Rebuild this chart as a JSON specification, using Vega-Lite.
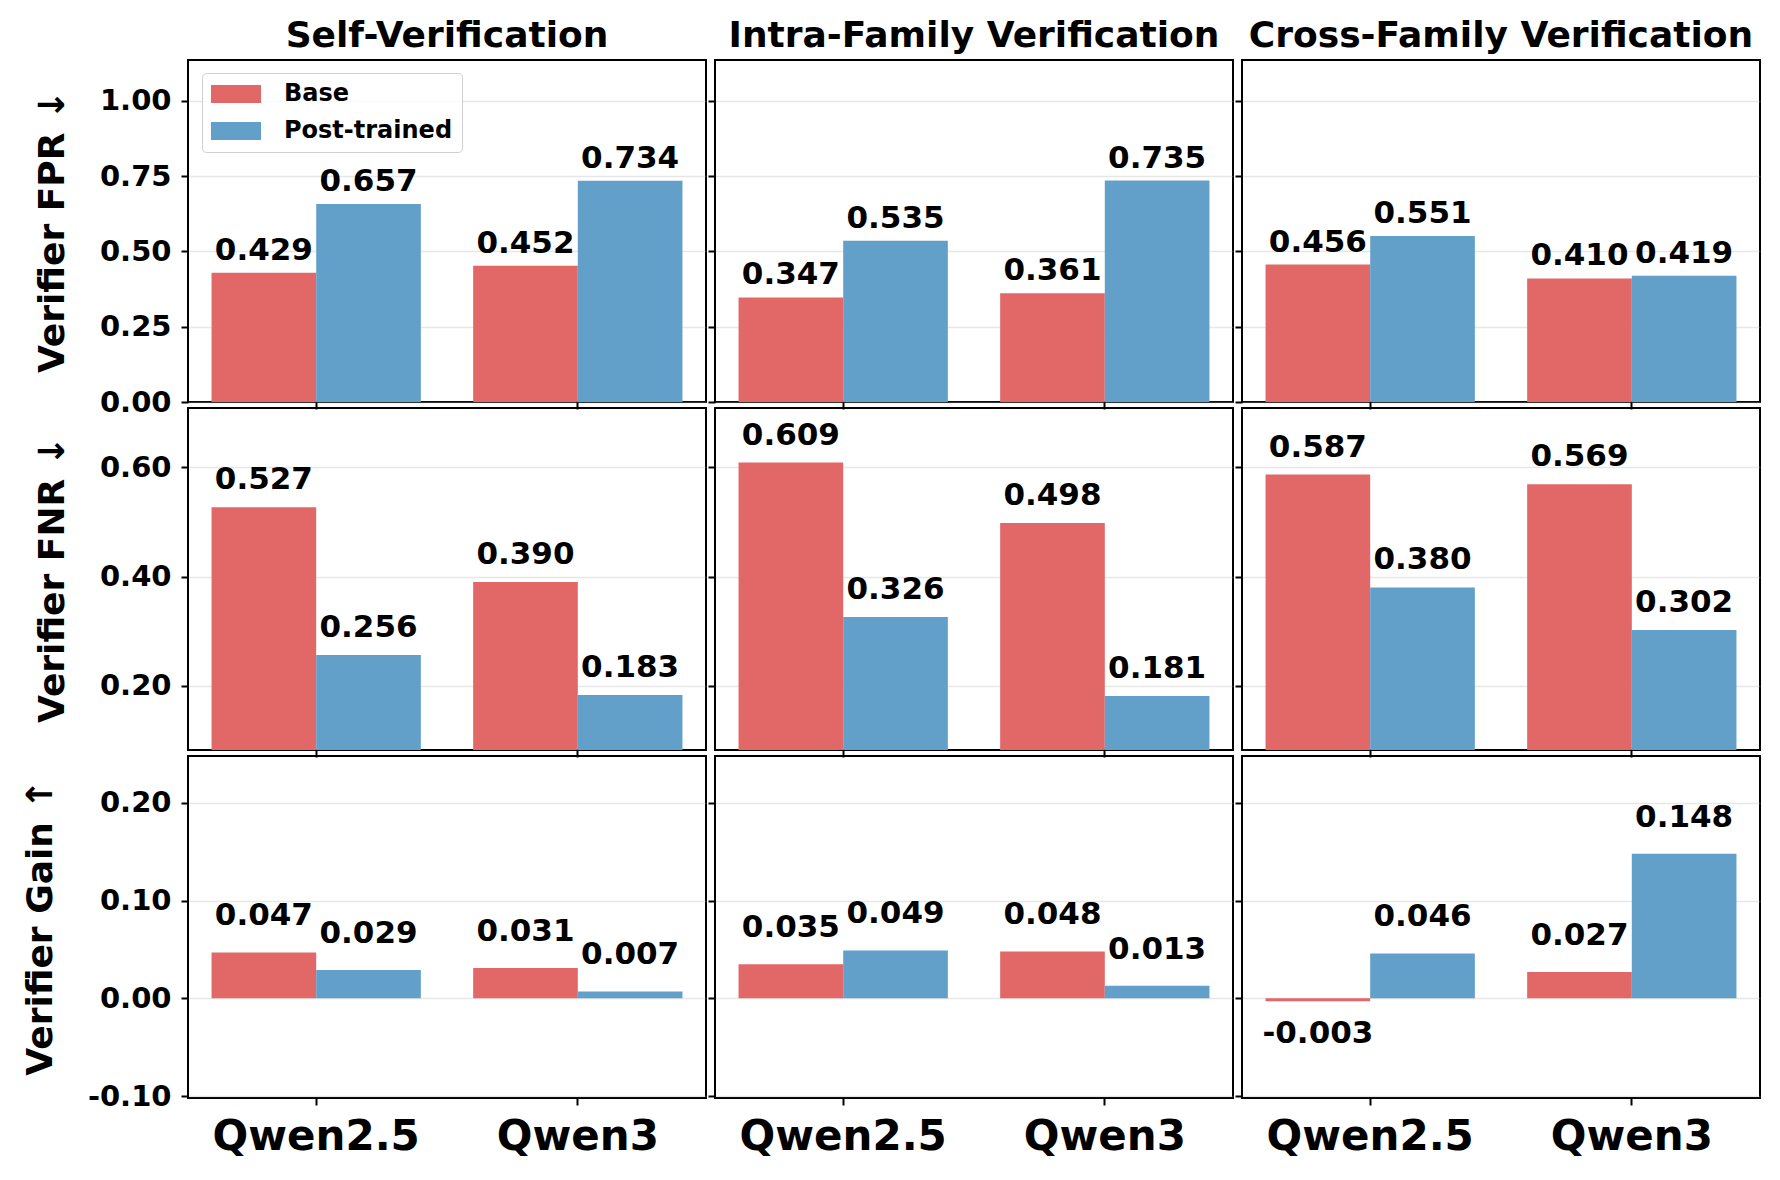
{
  "$schema": "https://vega.github.io/schema/vega-lite/v6.json",
  "padding": {"left": 21, "top": 17, "right": 16, "bottom": 10},
  "background": "white",
  "config": {
    "font": "DejaVu Sans",
    "locale": {"number": {"decimal": ".", "thousands": ",", "grouping": [3], "currency": ["$", ""], "minus": "-"}},
    "view": {"stroke": "black", "strokeWidth": 2},
    "title": {"font": "DejaVu Sans", "fontSize": 36, "fontWeight": "bold", "color": "black", "offset": 5, "anchor": "middle"},
    "axis": {"labelFont": "DejaVu Sans", "labelFontWeight": "bold", "labelColor": "black", "titleFont": "DejaVu Sans", "titleFontWeight": "bold", "titleColor": "black", "tickColor": "black", "tickWidth": 2, "tickSize": 7, "domain": false, "zindex": 1, "gridColor": "#b0b0b0", "gridOpacity": 0.3, "gridWidth": 1.5},
    "axisX": {"grid": false, "labelFontSize": 42, "labelAngle": 0, "labelPadding": 11, "labelLimit": 0},
    "axisY": {"labelFontSize": 29, "labelPadding": 10, "titleFontSize": 36, "titlePadding": 28, "grid": true},
    "text": {"font": "DejaVu Sans", "fontSize": 31, "fontWeight": "bold", "color": "black"}
  },
  "datasets": {
    "d": [
      {"metric": "FPR", "setting": "Self", "model": "Qwen2.5", "variant": "Base", "value": 0.429},
      {"metric": "FPR", "setting": "Self", "model": "Qwen2.5", "variant": "Post-trained", "value": 0.657},
      {"metric": "FPR", "setting": "Self", "model": "Qwen3", "variant": "Base", "value": 0.452},
      {"metric": "FPR", "setting": "Self", "model": "Qwen3", "variant": "Post-trained", "value": 0.734},
      {"metric": "FPR", "setting": "Intra", "model": "Qwen2.5", "variant": "Base", "value": 0.347},
      {"metric": "FPR", "setting": "Intra", "model": "Qwen2.5", "variant": "Post-trained", "value": 0.535},
      {"metric": "FPR", "setting": "Intra", "model": "Qwen3", "variant": "Base", "value": 0.361},
      {"metric": "FPR", "setting": "Intra", "model": "Qwen3", "variant": "Post-trained", "value": 0.735},
      {"metric": "FPR", "setting": "Cross", "model": "Qwen2.5", "variant": "Base", "value": 0.456},
      {"metric": "FPR", "setting": "Cross", "model": "Qwen2.5", "variant": "Post-trained", "value": 0.551},
      {"metric": "FPR", "setting": "Cross", "model": "Qwen3", "variant": "Base", "value": 0.410},
      {"metric": "FPR", "setting": "Cross", "model": "Qwen3", "variant": "Post-trained", "value": 0.419},
      {"metric": "FNR", "setting": "Self", "model": "Qwen2.5", "variant": "Base", "value": 0.527},
      {"metric": "FNR", "setting": "Self", "model": "Qwen2.5", "variant": "Post-trained", "value": 0.256},
      {"metric": "FNR", "setting": "Self", "model": "Qwen3", "variant": "Base", "value": 0.390},
      {"metric": "FNR", "setting": "Self", "model": "Qwen3", "variant": "Post-trained", "value": 0.183},
      {"metric": "FNR", "setting": "Intra", "model": "Qwen2.5", "variant": "Base", "value": 0.609},
      {"metric": "FNR", "setting": "Intra", "model": "Qwen2.5", "variant": "Post-trained", "value": 0.326},
      {"metric": "FNR", "setting": "Intra", "model": "Qwen3", "variant": "Base", "value": 0.498},
      {"metric": "FNR", "setting": "Intra", "model": "Qwen3", "variant": "Post-trained", "value": 0.181},
      {"metric": "FNR", "setting": "Cross", "model": "Qwen2.5", "variant": "Base", "value": 0.587},
      {"metric": "FNR", "setting": "Cross", "model": "Qwen2.5", "variant": "Post-trained", "value": 0.380},
      {"metric": "FNR", "setting": "Cross", "model": "Qwen3", "variant": "Base", "value": 0.569},
      {"metric": "FNR", "setting": "Cross", "model": "Qwen3", "variant": "Post-trained", "value": 0.302},
      {"metric": "Gain", "setting": "Self", "model": "Qwen2.5", "variant": "Base", "value": 0.047},
      {"metric": "Gain", "setting": "Self", "model": "Qwen2.5", "variant": "Post-trained", "value": 0.029},
      {"metric": "Gain", "setting": "Self", "model": "Qwen3", "variant": "Base", "value": 0.031},
      {"metric": "Gain", "setting": "Self", "model": "Qwen3", "variant": "Post-trained", "value": 0.007},
      {"metric": "Gain", "setting": "Intra", "model": "Qwen2.5", "variant": "Base", "value": 0.035},
      {"metric": "Gain", "setting": "Intra", "model": "Qwen2.5", "variant": "Post-trained", "value": 0.049},
      {"metric": "Gain", "setting": "Intra", "model": "Qwen3", "variant": "Base", "value": 0.048},
      {"metric": "Gain", "setting": "Intra", "model": "Qwen3", "variant": "Post-trained", "value": 0.013},
      {"metric": "Gain", "setting": "Cross", "model": "Qwen2.5", "variant": "Base", "value": -0.003},
      {"metric": "Gain", "setting": "Cross", "model": "Qwen2.5", "variant": "Post-trained", "value": 0.046},
      {"metric": "Gain", "setting": "Cross", "model": "Qwen3", "variant": "Base", "value": 0.027},
      {"metric": "Gain", "setting": "Cross", "model": "Qwen3", "variant": "Post-trained", "value": 0.148}
    ]
  },
  "data": {"name": "d"},
  "columns": 3,
  "bounds": "flush",
  "spacing": {"row": 6, "column": 9},
  "resolve": {"scale": {"x": "independent", "y": "independent"}, "legend": {"color": "independent"}},
  "concat": [
    {
      "width": 518, "height": 342,
      "title": "Self-Verification",
      "transform": [{"filter": "datum.metric === 'FPR' && datum.setting === 'Self'"}],
      "encoding": {
        "x": {"field": "model", "type": "nominal", "scale": {"domain": ["Qwen2.5", "Qwen3"], "paddingInner": 0.2, "paddingOuter": 0.09}, "axis": {"labels": false, "labelPadding": 0, "title": null}},
        "xOffset": {"field": "variant", "type": "nominal", "scale": {"domain": ["Base", "Post-trained"], "paddingInner": 0, "paddingOuter": 0}},
        "y": {"field": "value", "type": "quantitative", "scale": {"domain": [0, 1.135], "nice": false, "zero": false}, "axis": {"values": [0, 0.25, 0.5, 0.75, 1.0], "format": ".2f", "title": "Verifier FPR ↓"}}
      },
      "layer": [
        {"mark": {"type": "bar", "clip": true}, "encoding": {"color": {"field": "variant", "type": "nominal", "scale": {"domain": ["Base", "Post-trained"], "range": ["#e26868", "#62a0ca"]}, "legend": {"orient": "none", "legendX": 14, "legendY": 13, "title": null, "symbolType": "M-2.778,-1L2.778,-1L2.778,1L-2.778,1Z", "symbolSize": 324, "symbolOffset": 13, "symbolStrokeWidth": 0, "symbolOpacity": 1, "labelFont": "DejaVu Sans", "labelFontSize": 24, "labelFontWeight": "bold", "labelColor": "black", "labelOffset": 36, "labelLimit": 0, "rowPadding": 13, "padding": 9, "strokeColor": "#d0d0d0", "fillColor": "rgba(255,255,255,0.8)", "cornerRadius": 4}}}},
        {"transform": [{"filter": "datum.value >= 0"}], "mark": {"type": "text", "baseline": "alphabetic", "dy": -13}, "encoding": {"text": {"field": "value", "type": "quantitative", "format": ".3f"}}}
      ]
    },
    {
      "width": 518, "height": 342,
      "title": "Intra-Family Verification",
      "transform": [{"filter": "datum.metric === 'FPR' && datum.setting === 'Intra'"}],
      "encoding": {
        "x": {"field": "model", "type": "nominal", "scale": {"domain": ["Qwen2.5", "Qwen3"], "paddingInner": 0.2, "paddingOuter": 0.09}, "axis": {"labels": false, "labelPadding": 0, "title": null}},
        "xOffset": {"field": "variant", "type": "nominal", "scale": {"domain": ["Base", "Post-trained"], "paddingInner": 0, "paddingOuter": 0}},
        "y": {"field": "value", "type": "quantitative", "scale": {"domain": [0, 1.135], "nice": false, "zero": false}, "axis": {"values": [0, 0.25, 0.5, 0.75, 1.0], "labels": false, "labelPadding": 0, "title": null}}
      },
      "layer": [
        {"mark": {"type": "bar", "clip": true}, "encoding": {"color": {"field": "variant", "type": "nominal", "scale": {"domain": ["Base", "Post-trained"], "range": ["#e26868", "#62a0ca"]}, "legend": null}}},
        {"transform": [{"filter": "datum.value >= 0"}], "mark": {"type": "text", "baseline": "alphabetic", "dy": -13}, "encoding": {"text": {"field": "value", "type": "quantitative", "format": ".3f"}}}
      ]
    },
    {
      "width": 518, "height": 342,
      "title": "Cross-Family Verification",
      "transform": [{"filter": "datum.metric === 'FPR' && datum.setting === 'Cross'"}],
      "encoding": {
        "x": {"field": "model", "type": "nominal", "scale": {"domain": ["Qwen2.5", "Qwen3"], "paddingInner": 0.2, "paddingOuter": 0.09}, "axis": {"labels": false, "labelPadding": 0, "title": null}},
        "xOffset": {"field": "variant", "type": "nominal", "scale": {"domain": ["Base", "Post-trained"], "paddingInner": 0, "paddingOuter": 0}},
        "y": {"field": "value", "type": "quantitative", "scale": {"domain": [0, 1.135], "nice": false, "zero": false}, "axis": {"values": [0, 0.25, 0.5, 0.75, 1.0], "labels": false, "labelPadding": 0, "title": null}}
      },
      "layer": [
        {"mark": {"type": "bar", "clip": true}, "encoding": {"color": {"field": "variant", "type": "nominal", "scale": {"domain": ["Base", "Post-trained"], "range": ["#e26868", "#62a0ca"]}, "legend": null}}},
        {"transform": [{"filter": "datum.value >= 0"}], "mark": {"type": "text", "baseline": "alphabetic", "dy": -13}, "encoding": {"text": {"field": "value", "type": "quantitative", "format": ".3f"}}}
      ]
    },
    {
      "width": 518, "height": 342,
      "transform": [{"filter": "datum.metric === 'FNR' && datum.setting === 'Self'"}],
      "encoding": {
        "x": {"field": "model", "type": "nominal", "scale": {"domain": ["Qwen2.5", "Qwen3"], "paddingInner": 0.2, "paddingOuter": 0.09}, "axis": {"labels": false, "labelPadding": 0, "title": null}},
        "xOffset": {"field": "variant", "type": "nominal", "scale": {"domain": ["Base", "Post-trained"], "paddingInner": 0, "paddingOuter": 0}},
        "y": {"field": "value", "type": "quantitative", "scale": {"domain": [0.082, 0.709], "nice": false, "zero": false}, "axis": {"values": [0.2, 0.4, 0.6], "format": ".2f", "title": "Verifier FNR ↓"}}
      },
      "layer": [
        {"mark": {"type": "bar", "clip": true}, "encoding": {"color": {"field": "variant", "type": "nominal", "scale": {"domain": ["Base", "Post-trained"], "range": ["#e26868", "#62a0ca"]}, "legend": null}}},
        {"transform": [{"filter": "datum.value >= 0"}], "mark": {"type": "text", "baseline": "alphabetic", "dy": -18}, "encoding": {"text": {"field": "value", "type": "quantitative", "format": ".3f"}}}
      ]
    },
    {
      "width": 518, "height": 342,
      "transform": [{"filter": "datum.metric === 'FNR' && datum.setting === 'Intra'"}],
      "encoding": {
        "x": {"field": "model", "type": "nominal", "scale": {"domain": ["Qwen2.5", "Qwen3"], "paddingInner": 0.2, "paddingOuter": 0.09}, "axis": {"labels": false, "labelPadding": 0, "title": null}},
        "xOffset": {"field": "variant", "type": "nominal", "scale": {"domain": ["Base", "Post-trained"], "paddingInner": 0, "paddingOuter": 0}},
        "y": {"field": "value", "type": "quantitative", "scale": {"domain": [0.082, 0.709], "nice": false, "zero": false}, "axis": {"values": [0.2, 0.4, 0.6], "labels": false, "labelPadding": 0, "title": null}}
      },
      "layer": [
        {"mark": {"type": "bar", "clip": true}, "encoding": {"color": {"field": "variant", "type": "nominal", "scale": {"domain": ["Base", "Post-trained"], "range": ["#e26868", "#62a0ca"]}, "legend": null}}},
        {"transform": [{"filter": "datum.value >= 0"}], "mark": {"type": "text", "baseline": "alphabetic", "dy": -18}, "encoding": {"text": {"field": "value", "type": "quantitative", "format": ".3f"}}}
      ]
    },
    {
      "width": 518, "height": 342,
      "transform": [{"filter": "datum.metric === 'FNR' && datum.setting === 'Cross'"}],
      "encoding": {
        "x": {"field": "model", "type": "nominal", "scale": {"domain": ["Qwen2.5", "Qwen3"], "paddingInner": 0.2, "paddingOuter": 0.09}, "axis": {"labels": false, "labelPadding": 0, "title": null}},
        "xOffset": {"field": "variant", "type": "nominal", "scale": {"domain": ["Base", "Post-trained"], "paddingInner": 0, "paddingOuter": 0}},
        "y": {"field": "value", "type": "quantitative", "scale": {"domain": [0.082, 0.709], "nice": false, "zero": false}, "axis": {"values": [0.2, 0.4, 0.6], "labels": false, "labelPadding": 0, "title": null}}
      },
      "layer": [
        {"mark": {"type": "bar", "clip": true}, "encoding": {"color": {"field": "variant", "type": "nominal", "scale": {"domain": ["Base", "Post-trained"], "range": ["#e26868", "#62a0ca"]}, "legend": null}}},
        {"transform": [{"filter": "datum.value >= 0"}], "mark": {"type": "text", "baseline": "alphabetic", "dy": -18}, "encoding": {"text": {"field": "value", "type": "quantitative", "format": ".3f"}}}
      ]
    },
    {
      "width": 518, "height": 342,
      "transform": [{"filter": "datum.metric === 'Gain' && datum.setting === 'Self'"}],
      "encoding": {
        "x": {"field": "model", "type": "nominal", "scale": {"domain": ["Qwen2.5", "Qwen3"], "paddingInner": 0.2, "paddingOuter": 0.09}, "axis": {"title": null}},
        "xOffset": {"field": "variant", "type": "nominal", "scale": {"domain": ["Base", "Post-trained"], "paddingInner": 0, "paddingOuter": 0}},
        "y": {"field": "value", "type": "quantitative", "scale": {"domain": [-0.102, 0.248], "nice": false, "zero": false}, "axis": {"values": [-0.1, 0, 0.1, 0.2], "format": ".2f", "title": "Verifier Gain ↑"}}
      },
      "layer": [
        {"mark": {"type": "bar", "clip": true}, "encoding": {"color": {"field": "variant", "type": "nominal", "scale": {"domain": ["Base", "Post-trained"], "range": ["#e26868", "#62a0ca"]}, "legend": null}}},
        {"transform": [{"filter": "datum.value >= 0"}], "mark": {"type": "text", "baseline": "alphabetic", "dy": -27}, "encoding": {"text": {"field": "value", "type": "quantitative", "format": ".3f"}}}
      ]
    },
    {
      "width": 518, "height": 342,
      "transform": [{"filter": "datum.metric === 'Gain' && datum.setting === 'Intra'"}],
      "encoding": {
        "x": {"field": "model", "type": "nominal", "scale": {"domain": ["Qwen2.5", "Qwen3"], "paddingInner": 0.2, "paddingOuter": 0.09}, "axis": {"title": null}},
        "xOffset": {"field": "variant", "type": "nominal", "scale": {"domain": ["Base", "Post-trained"], "paddingInner": 0, "paddingOuter": 0}},
        "y": {"field": "value", "type": "quantitative", "scale": {"domain": [-0.102, 0.248], "nice": false, "zero": false}, "axis": {"values": [-0.1, 0, 0.1, 0.2], "labels": false, "labelPadding": 0, "title": null}}
      },
      "layer": [
        {"mark": {"type": "bar", "clip": true}, "encoding": {"color": {"field": "variant", "type": "nominal", "scale": {"domain": ["Base", "Post-trained"], "range": ["#e26868", "#62a0ca"]}, "legend": null}}},
        {"transform": [{"filter": "datum.value >= 0"}], "mark": {"type": "text", "baseline": "alphabetic", "dy": -27}, "encoding": {"text": {"field": "value", "type": "quantitative", "format": ".3f"}}}
      ]
    },
    {
      "width": 518, "height": 342,
      "transform": [{"filter": "datum.metric === 'Gain' && datum.setting === 'Cross'"}],
      "encoding": {
        "x": {"field": "model", "type": "nominal", "scale": {"domain": ["Qwen2.5", "Qwen3"], "paddingInner": 0.2, "paddingOuter": 0.09}, "axis": {"title": null}},
        "xOffset": {"field": "variant", "type": "nominal", "scale": {"domain": ["Base", "Post-trained"], "paddingInner": 0, "paddingOuter": 0}},
        "y": {"field": "value", "type": "quantitative", "scale": {"domain": [-0.102, 0.248], "nice": false, "zero": false}, "axis": {"values": [-0.1, 0, 0.1, 0.2], "labels": false, "labelPadding": 0, "title": null}}
      },
      "layer": [
        {"mark": {"type": "bar", "clip": true}, "encoding": {"color": {"field": "variant", "type": "nominal", "scale": {"domain": ["Base", "Post-trained"], "range": ["#e26868", "#62a0ca"]}, "legend": null}}},
        {"transform": [{"filter": "datum.value >= 0"}], "mark": {"type": "text", "baseline": "alphabetic", "dy": -27}, "encoding": {"text": {"field": "value", "type": "quantitative", "format": ".3f"}}},
        {"transform": [{"filter": "datum.value < 0"}], "mark": {"type": "text", "baseline": "top", "dy": 18}, "encoding": {"text": {"field": "value", "type": "quantitative", "format": ".3f"}}}
      ]
    }
  ]
}
